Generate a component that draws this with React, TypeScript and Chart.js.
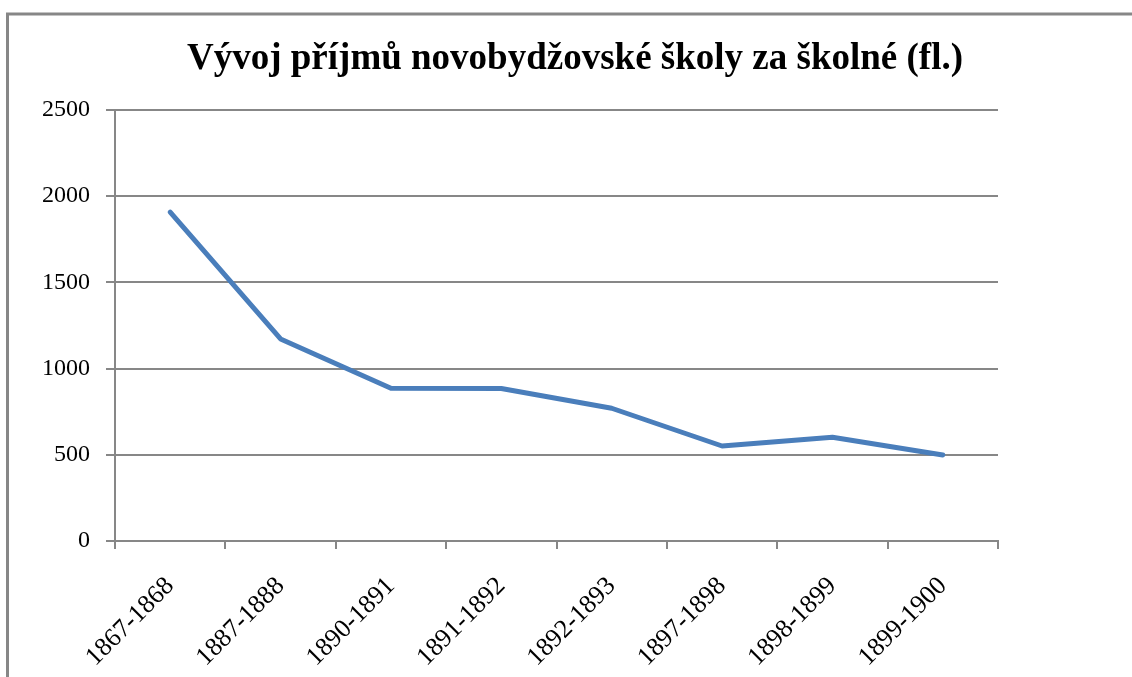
import React, { useEffect, useRef } from "react";
import { Chart, registerables } from "chart.js";

Chart.register(...registerables);

const TITLE = "Vývoj příjmů novobydžovské školy za školné (fl.)";
const CATEGORIES = [
  "1867-1868",
  "1887-1888",
  "1890-1891",
  "1891-1892",
  "1892-1893",
  "1897-1898",
  "1898-1899",
  "1899-1900",
];
const INCOME = [1908, 1172, 886, 885, 770, 551, 602, 499];
const Y_MIN = 0;
const Y_MAX = 2500;
const Y_STEP = 500;

const GRAY = "#878787";
const FONT = "'Liberation Serif', 'Times New Roman', serif";

const frame = {
  id: "frame",
  beforeDraw(chart: any) {
    const { ctx } = chart;
    ctx.save();
    ctx.fillStyle = "#ffffff";
    ctx.fillRect(0, 0, chart.width, chart.height);
    ctx.strokeStyle = GRAY;
    ctx.lineWidth = 3;
    ctx.beginPath();
    ctx.moveTo(7.5, chart.height);
    ctx.lineTo(7.5, 14);
    ctx.lineTo(chart.width, 14);
    ctx.stroke();
    ctx.fillStyle = "#000";
    ctx.font = `bold 37px ${FONT}`;
    ctx.textAlign = "center";
    ctx.textBaseline = "alphabetic";
    ctx.fillText(TITLE, 575, 69);
    ctx.restore();
  },
};

export default function App() {
  const ref = useRef<HTMLCanvasElement | null>(null);
  useEffect(() => {
    if (!ref.current) return;
    const chart = new Chart(ref.current, {
      type: "line",
      data: {
        labels: CATEGORIES,
        datasets: [
          {
            data: INCOME,
            borderColor: "#4a7ebb",
            borderWidth: 5,
            pointRadius: 0,
            tension: 0,
            borderCapStyle: "round",
            borderJoinStyle: "round",
          },
        ],
      },
      options: {
        animation: false,
        responsive: false,
        layout: { padding: { left: 0, right: 134, top: 110, bottom: 0 } },
        plugins: {
          legend: { display: false },
          tooltip: { enabled: false },
          title: { display: false },
        },
        scales: {
          x: {
            offset: true,
            grid: {
              offset: true,
              drawOnChartArea: false,
              drawTicks: true,
              tickLength: 8,
              color: GRAY,
              lineWidth: 2,
            },
            border: { display: true, color: GRAY, width: 2 },
            ticks: {
              color: "#000",
              font: { family: FONT, size: 26 },
              minRotation: 45,
              maxRotation: 45,
              padding: 22,
              autoSkip: false,
            },
            afterFit(scale: any) {
              scale.height = 136;
            },
          },
          y: {
            min: Y_MIN,
            max: Y_MAX,
            grid: {
              color: GRAY,
              lineWidth: 2,
              tickLength: 9,
            },
            border: { display: true, color: GRAY, width: 2 },
            ticks: {
              stepSize: Y_STEP,
              color: "#000",
              font: { family: FONT, size: 24 },
              padding: 16,
              callback: (v: any) => String(v),
            },
            afterFit(scale: any) {
              scale.width = 115;
            },
          },
        },
      },
      plugins: [frame],
    });
    return () => chart.destroy();
  }, []);
  return (
    <div style={{ position: "absolute", left: 0, top: 0, width: 1132, height: 677 }}>
      <canvas ref={ref} width={1132} height={677} style={{ display: "block" }} />
    </div>
  );
}
